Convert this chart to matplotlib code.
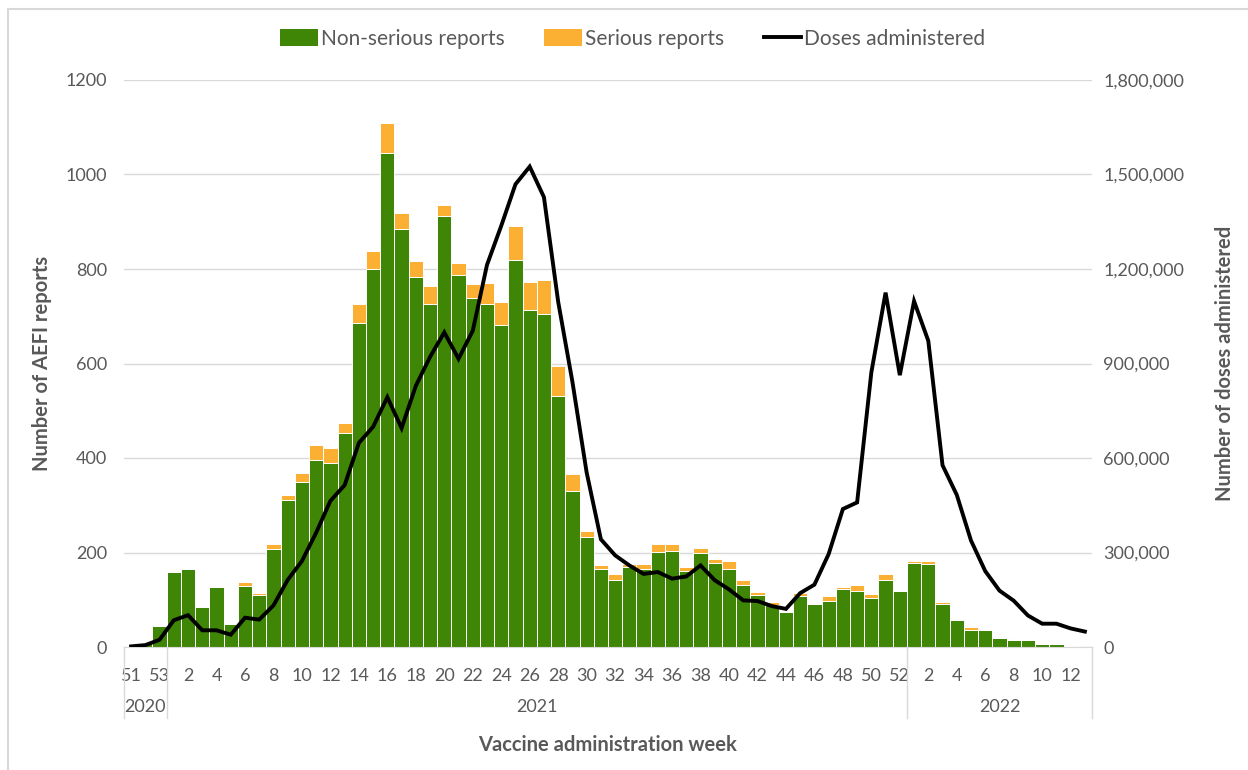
import numpy as np
import matplotlib
matplotlib.use('Agg')
import matplotlib.pyplot as plt
from matplotlib.patches import Patch, Rectangle
from matplotlib.lines import Line2D
from matplotlib.ticker import FuncFormatter, MultipleLocator
import matplotlib.transforms as mtransforms

plt.rcParams['font.family'] = ['Lato', 'DejaVu Sans']

# Week labels: 2020 w51-53, 2021 w1-52, 2022 w1-13
weeks = [51, 52, 53] + list(range(1, 53)) + list(range(1, 14))
years = ['2020', '2021', '2022']
year_counts = [3, 52, 13]

# Non-serious AEFI reports per week
non_serious = [2, 9, 44, 159, 165, 85, 126, 48, 130, 109,
               207, 311, 349, 395, 389, 452, 686, 799, 1046, 885,
               783, 726, 912, 788, 738, 725, 681, 820, 714, 704,
               531, 330, 233, 166, 142, 170, 165, 201, 203, 160,
               199, 178, 166, 132, 111, 88, 74, 108, 90, 98,
               123, 119, 104, 142, 118, 177, 175, 90, 57, 35,
               37, 20, 14, 14, 7, 6, 2, 1]

# Serious AEFI reports per week
serious = [0, 0, 2, 2, 1, 2, 4, 1, 8, 6,
           10, 11, 19, 33, 33, 23, 39, 39, 64, 34,
           34, 39, 23, 25, 30, 45, 49, 70, 59, 72,
           63, 36, 12, 8, 13, 6, 11, 17, 16, 10,
           10, 8, 15, 9, 6, 8, 3, 7, 3, 10,
           5, 12, 9, 13, 1, 5, 6, 6, 3, 7,
           1, 2, 3, 1, 2, 1, 2, 0]

# Doses administered per week
doses = [2000, 6000, 23000, 85000, 101000, 53000, 53000, 39000, 93000, 87000,
         132000, 213000, 273000, 363000, 464000, 514000, 648000, 699000, 793000, 695000,
         829000, 921000, 999000, 915000, 1004000, 1213000, 1337000, 1469000, 1525000, 1428000,
         1096000, 842000, 554000, 342000, 291000, 259000, 232000, 238000, 217000, 224000,
         259000, 212000, 183000, 148000, 146000, 130000, 121000, 171000, 198000, 295000,
         438000, 459000, 872000, 1125000, 863000, 1098000, 972000, 577000, 483000, 338000,
         241000, 179000, 147000, 100000, 74000, 74000, 59000, 49000]

GREEN = '#3f8506'
ORANGE = '#fbb034'
GREY = '#595959'
GRID = '#d9d9d9'

x = np.arange(len(weeks))

fig = plt.figure(figsize=(12.48, 7.70), dpi=100)
ax = fig.add_axes([124 / 1248, 123 / 770, 968 / 1248, 567 / 770])

ax.bar(x, non_serious, width=1.0, color=GREEN, edgecolor='white', linewidth=0.7, zorder=2)
ax.bar(x, serious, width=1.0, bottom=non_serious, color=ORANGE, edgecolor='white',
       linewidth=0.7, zorder=2)

ax.set_xlim(-0.5, len(weeks) - 0.5)
ax.set_ylim(0, 1200)
ax.yaxis.set_major_locator(MultipleLocator(200))
ax.grid(axis='y', color=GRID, linewidth=1, zorder=0)
ax.set_axisbelow(True)
for s in ['top', 'right', 'left']:
    ax.spines[s].set_visible(False)
ax.spines['bottom'].set_color(GRID)
ax.tick_params(axis='y', length=0, pad=12, labelsize=13, labelcolor=GREY)
ax.set_xticks(x[::2])
ax.set_xticklabels([str(w) for w in weeks[::2]])
ax.tick_params(axis='x', length=0, pad=15, labelsize=13, labelcolor=GREY)
ax.set_ylabel('Number of AEFI reports', fontsize=14.5, fontweight='bold', color=GREY, labelpad=10)

# year row and separators
trans = mtransforms.blended_transform_factory(ax.transData, ax.transAxes)
start = 0
bounds = [-0.5]
for yr, n in zip(years, year_counts):
    center = start + (n - 1) / 2
    ax.text(center, -0.106, yr, transform=trans, ha='center', va='center',
            fontsize=13, color=GREY)
    start += n
    bounds.append(start - 0.5)
for b in bounds:
    ax.plot([b, b], [0, -0.125], transform=trans, color=GRID, linewidth=1, clip_on=False)

ax.text(0.5, -0.172, 'Vaccine administration week', transform=ax.transAxes, ha='center',
        va='center', fontsize=14.5, fontweight='bold', color=GREY)

ax2 = ax.twinx()
ax2.plot(x, doses, color='black', linewidth=2.8, solid_joinstyle='miter', zorder=3)
ax2.set_ylim(0, 1800000)
ax2.yaxis.set_major_locator(MultipleLocator(300000))
ax2.yaxis.set_major_formatter(FuncFormatter(lambda v, p: f'{int(v):,}'))
for s in ['top', 'right', 'left', 'bottom']:
    ax2.spines[s].set_visible(False)
ax2.tick_params(axis='y', length=0, pad=8, labelsize=13, labelcolor=GREY)
ax2.set_ylabel('Number of doses administered', fontsize=14.5, fontweight='bold', color=GREY,
               labelpad=22)

handles = [Patch(facecolor=GREEN), Patch(facecolor=ORANGE),
           Line2D([0], [0], color='black', linewidth=2.8)]
labels = ['Non-serious reports', 'Serious reports', 'Doses administered']
leg = fig.legend(handles, labels, loc='center', bbox_to_anchor=(633 / 1248, 1 - 39 / 770),
                 ncol=3, frameon=False, fontsize=15, handlelength=1.8, handleheight=0.9,
                 handletextpad=0.15, columnspacing=1.9)
for t in leg.get_texts():
    t.set_color(GREY)

# chart area border
fig.patches.append(Rectangle((8 / 1248, -0.01), 1.02, 1 - 9 / 770 + 0.01,
                             transform=fig.transFigure, fill=False, edgecolor=GRID,
                             linewidth=1.5))

fig.savefig('out.png', dpi=100)
